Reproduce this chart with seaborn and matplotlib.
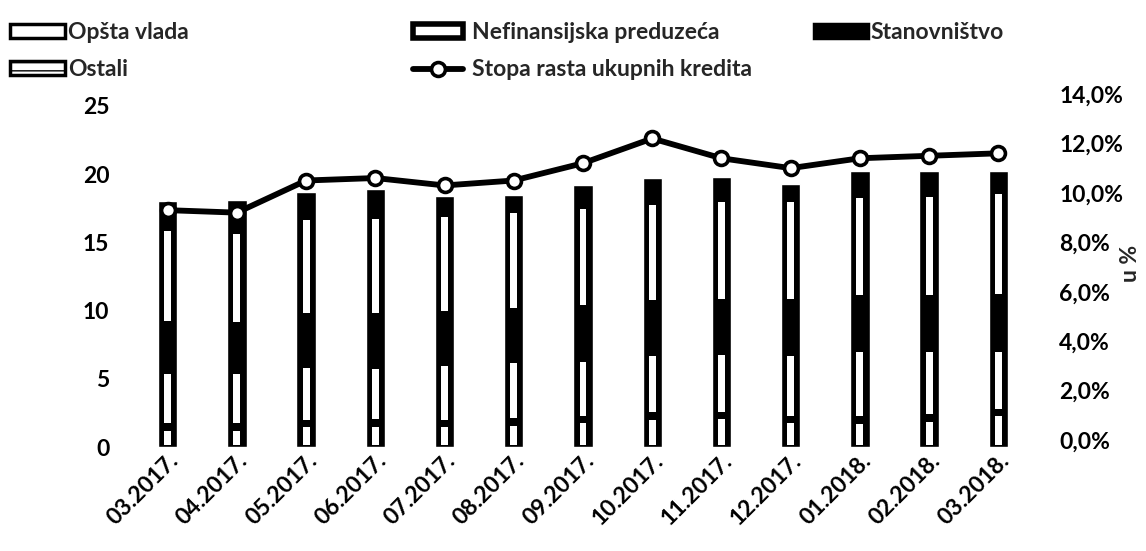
import numpy as np
import pandas as pd
import matplotlib
matplotlib.use("Agg")
import matplotlib.pyplot as plt
import seaborn as sns
from matplotlib.patches import Patch
from matplotlib.lines import Line2D
from matplotlib.ticker import FuncFormatter

# Data
months = ["03.2017.", "04.2017.", "05.2017.", "06.2017.", "07.2017.", "08.2017.",
          "09.2017.", "10.2017.", "11.2017.", "12.2017.", "01.2018.", "02.2018.", "03.2018."]
opsta_vlada = [1.45, 1.45, 1.70, 1.75, 1.70, 1.80, 2.00, 2.25, 2.30, 2.00, 1.95, 2.10, 2.50]
nefinansijska = [4.15, 4.15, 4.35, 4.25, 4.50, 4.60, 4.50, 4.70, 4.70, 4.90, 5.25, 5.10, 4.70]
stanovnistvo = [10.50, 10.30, 10.85, 11.00, 10.90, 11.00, 11.20, 11.05, 11.20, 11.30, 11.30, 11.40, 11.60]
ostali = [1.90, 2.20, 1.80, 1.90, 1.30, 1.10, 1.50, 1.70, 1.60, 1.10, 1.70, 1.60, 1.40]
stopa_rasta = [9.3, 9.2, 10.5, 10.6, 10.3, 10.5, 11.2, 12.2, 11.4, 11.0, 11.4, 11.5, 11.6]

series_names = ["Opšta vlada", "Nefinansijska preduzeća", "Stanovništvo", "Ostali"]
line_name = "Stopa rasta ukupnih kredita"

sns.set_theme(style="white")
plt.rcParams['font.family'] = ['Lato', 'DejaVu Sans']
plt.rcParams['font.weight'] = 'bold'
FS = 16.5

df = pd.DataFrame({
    "month": months,
    "opsta": opsta_vlada,
    "nefin": nefinansijska,
    "stan": stanovnistvo,
    "ostali": ostali,
    "rast": stopa_rasta,
})
df["c1"] = df["opsta"]
df["c2"] = df["c1"] + df["nefin"]
df["c3"] = df["c2"] + df["stan"]
df["total"] = df["c3"] + df["ostali"]

W, H = 1146, 551
fig, ax = plt.subplots(figsize=(W / 100, H / 100), dpi=100)
fig.subplots_adjust(left=133 / W, right=1033 / W, bottom=(H - 447) / H, top=(H - 94) / H)

bar_w = 0.28
streak_w = 0.10

# stacked bars (the scan renders every segment black)
sns.barplot(data=df, x="month", y="total", color="black", width=bar_w,
            saturation=1, ax=ax, order=months)

# white streaks inside each segment, as in the scanned original
xpos = np.arange(len(months))
lo = np.zeros(len(months))
for col, top_pad, bot_pad, frac in [("c1", 0.25, 0.15, 1.0),
                                    ("c2", 0.25, 0.30, 1.0),
                                    ("c3", 0.25, 0.30, 0.68)]:
    hi = df[col].values
    seg_bottom = hi - (hi - lo) * frac + bot_pad
    ax.bar(xpos, (hi - top_pad) - seg_bottom, bottom=seg_bottom,
           width=streak_w, color="white", linewidth=0, zorder=3)
    lo = hi

# left axis: 25 sits a little below the axes top in the original
ax.set_ylim(0, 25 * 353 / 341)
ax.set_yticks([0, 5, 10, 15, 20, 25])
ax.set_xlim(-0.5, len(months) - 0.5)
ax.set_xlabel("")
ax.set_ylabel("")

# growth line on secondary axis
ax2 = ax.twinx()
sns.pointplot(data=df, x="month", y="rast", order=months, ax=ax2, color="black",
              markers="o", markersize=10, markerfacecolor="white",
              markeredgecolor="black", markeredgewidth=2.6, linewidth=4.2)
ax2.set_ylim(-0.283, 14)
ax2.set_yticks(np.arange(0, 15, 2))
ax2.yaxis.set_major_formatter(FuncFormatter(lambda v, p: f"{v:.1f}%".replace(".", ",")))
ax2.set_ylabel("u %", fontsize=FS, fontweight="bold", rotation=90)
ax2.yaxis.set_label_coords(1.097, 0.52)
ax2.set_xlim(-0.5, len(months) - 0.5)
ax2.set_xlabel("")

for a in (ax, ax2):
    for s in a.spines.values():
        s.set_visible(False)
    a.tick_params(length=0, labelsize=FS, colors="black")

ax.tick_params(axis="y", pad=17)
ax2.tick_params(axis="y", pad=19)
ax.set_xticks(xpos)
ax.set_xticklabels(months, rotation=45, ha="right", rotation_mode="anchor",
                   fontsize=FS, fontweight="bold")
ax.tick_params(axis="x", pad=2)

# legend: one small legend per column, placed like the original
h_opsta = Patch(facecolor="white", edgecolor="black", linewidth=2.5)
h_nefin = Patch(facecolor="white", edgecolor="black", linewidth=4)
h_stan = Patch(facecolor="black", edgecolor="black", linewidth=2.5)
h_ostali = Patch(facecolor="white", edgecolor="black", linewidth=2.5, hatch="--")
h_line = Line2D([0], [0], color="black", linewidth=4.2, marker="o", markersize=10,
                markerfacecolor="white", markeredgecolor="black", markeredgewidth=2.6)

leg_kw = dict(loc="upper left", frameon=False, fontsize=FS, handleheight=0.55,
              labelspacing=0.72, borderaxespad=0, borderpad=0)
fig.legend([h_opsta, h_ostali], [series_names[0], series_names[3]],
           bbox_to_anchor=(10 / W, 1 - 22 / H), handlelength=2.4, handletextpad=0.13, **leg_kw)
fig.legend([h_nefin, h_line], [series_names[1], line_name],
           bbox_to_anchor=(413 / W, 1 - 22 / H), handlelength=2.2, handletextpad=0.38, **leg_kw)
fig.legend([h_stan], [series_names[2]],
           bbox_to_anchor=(814 / W, 1 - 22 / H), handlelength=2.35, handletextpad=0.13, **leg_kw)

plt.savefig("out.png", dpi=100)
plt.close()
